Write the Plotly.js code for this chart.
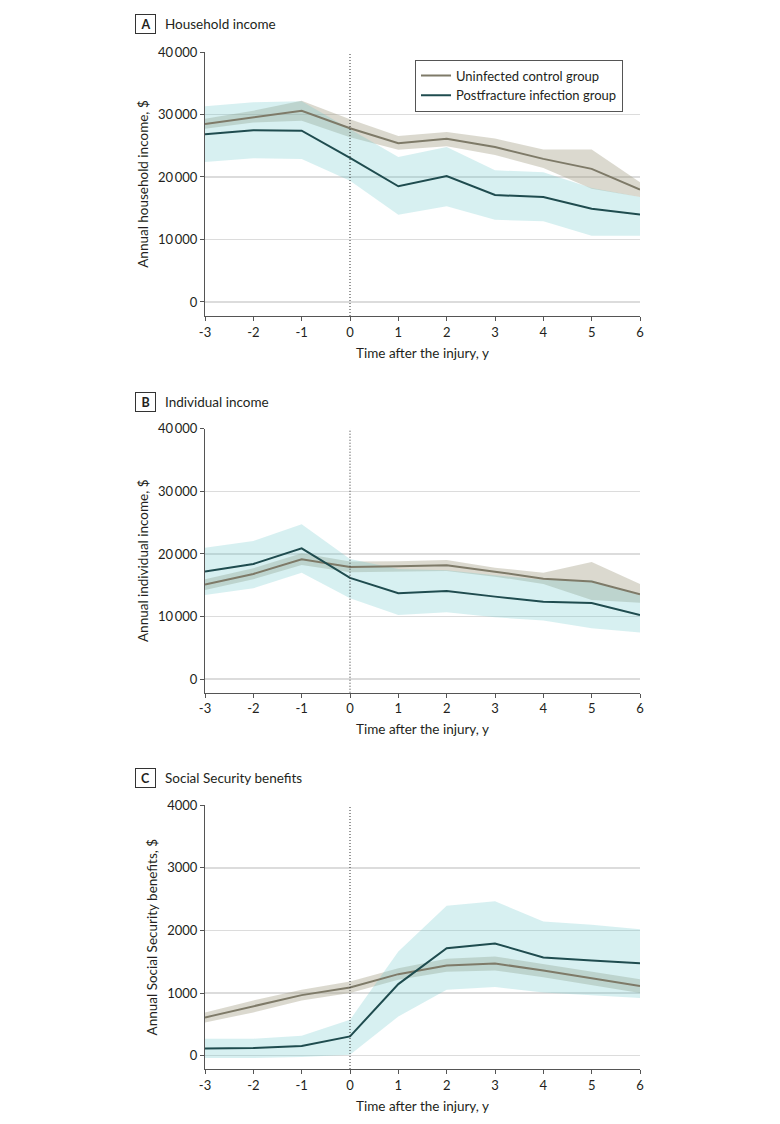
<!DOCTYPE html>
<html>
<head>
<meta charset="utf-8">
<script src="https://cdn.plot.ly/plotly-3.0.1.min.js"></script>
<style>html,body{margin:0;padding:0;background:#fff;}#chart{width:780px;height:1124px;}</style>
</head>
<body>
<div id="chart"></div>
<script>
// ---- data ----
const years = [-3, -2, -1, 0, 1, 2, 3, 4, 5, 6];
const yearLabels = ['-3', '-2', '-1', '0', '1', '2', '3', '4', '5', '6'];
const injuryYear = 0;

const seriesNames = ['Uninfected control group', 'Postfracture infection group'];

// Panel A: Household income
const hhControl      = [28480, 29600, 30600, 27800, 25400, 26100, 24800, 22900, 21300, 17970];
const hhControlUpper = [29300, 30600, 32200, 29250, 26550, 27200, 26150, 24400, 24400, 19150];
const hhControlLower = [27700, 28700, 29000, 26350, 24350, 24900, 23500, 21450, 18100, 16800];
const hhInfect       = [26830, 27470, 27410, 23040, 18510, 20160, 17110, 16800, 14920, 14010];
const hhInfectUpper  = [31300, 31950, 32100, 27700, 23200, 24800, 21070, 20750, 18240, 16800];
const hhInfectLower  = [22400, 22990, 22880, 19400, 13970, 15300, 13150, 12900, 10590, 10590];

// Panel B: Individual income
const indControl      = [15110, 16810, 19150, 17930, 18030, 18190, 17180, 16060, 15590, 13560];
const indControlUpper = [15960, 17710, 20110, 18780, 18830, 19040, 17820, 17020, 18720, 15210];
const indControlLower = [14260, 15960, 18240, 17070, 17180, 17290, 16380, 15210, 12660, 12230];
const indInfect       = [17180, 18400, 20900, 16170, 13720, 14100, 13190, 12390, 12180, 10270];
const indInfectUpper  = [21010, 22070, 24730, 19200, 17600, 17400, 16600, 15900, 15800, 13400];
const indInfectLower  = [13460, 14520, 17020, 12930, 10270, 10690,  9890,  9360,  8140,  7450];

// Panel C: Social Security benefits
const ssControl      = [612, 787, 968, 1090, 1303, 1441, 1473, 1362, 1239, 1112];
const ssControlUpper = [691, 883, 1053, 1186, 1399, 1548, 1585, 1468, 1346, 1223];
const ssControlLower = [532, 691, 883, 1000, 1213, 1340, 1362, 1255, 1133, 1000];
const ssInfect       = [117, 122, 154, 309, 1144, 1718, 1793, 1569, 1521, 1479];
const ssInfectUpper  = [271, 271, 319, 574, 1665, 2394, 2468, 2144, 2090, 2021];
const ssInfectLower  = [-37, -37, -21, 16, 628, 1053, 1096, 1011, 968, 920];

const incomeTickVals = [0, 10000, 20000, 30000, 40000];
const incomeTickText = ['0', '10\u2009000', '20\u2009000', '30\u2009000', '40\u2009000'];
const ssTickVals = [0, 1000, 2000, 3000, 4000];
const ssTickText = ['0', '1000', '2000', '3000', '4000'];

const panelLetters = ['A', 'B', 'C'];
const panelTitles = ['Household income', 'Individual income', 'Social Security benefits'];
const yTitles = ['Annual household income, $', 'Annual individual income, $', 'Annual Social Security benefits, $'];
const xTitle = 'Time after the injury, y';

// ---- styles ----
const FONT = 'Lato, "Noto Sans", sans-serif';
const TXT = '#231f20';
const controlLine = '#7e7a68';
const infectLine = '#1f4c4f';
const controlBand = 'rgba(160,155,128,0.38)';
const infectBand = 'rgba(110,200,205,0.28)';

function band(xs, up, lo) {
  return { x: xs.concat(xs.slice().reverse()), y: up.concat(lo.slice().reverse()) };
}

const panels = [
  { c: hhControl, cu: hhControlUpper, cl: hhControlLower, i: hhInfect, iu: hhInfectUpper, il: hhInfectLower },
  { c: indControl, cu: indControlUpper, cl: indControlLower, i: indInfect, iu: indInfectUpper, il: indInfectLower },
  { c: ssControl, cu: ssControlUpper, cl: ssControlLower, i: ssInfect, iu: ssInfectUpper, il: ssInfectLower }
];

const traces = [];
panels.forEach((p, k) => {
  const xa = k === 0 ? 'x' : 'x' + (k + 1);
  const ya = k === 0 ? 'y' : 'y' + (k + 1);
  const cb = band(years, p.cu, p.cl);
  const ib = band(years, p.iu, p.il);
  traces.push({ x: cb.x, y: cb.y, xaxis: xa, yaxis: ya, type: 'scatter', mode: 'lines', fill: 'toself',
    fillcolor: controlBand, line: { width: 0 }, hoverinfo: 'skip', showlegend: false });
  traces.push({ x: ib.x, y: ib.y, xaxis: xa, yaxis: ya, type: 'scatter', mode: 'lines', fill: 'toself',
    fillcolor: infectBand, line: { width: 0 }, hoverinfo: 'skip', showlegend: false });
  traces.push({ x: years, y: p.c, xaxis: xa, yaxis: ya, type: 'scatter', mode: 'lines', name: seriesNames[0],
    line: { color: controlLine, width: 2 }, showlegend: k === 0 });
  traces.push({ x: years, y: p.i, xaxis: xa, yaxis: ya, type: 'scatter', mode: 'lines', name: seriesNames[1],
    line: { color: infectLine, width: 2 }, showlegend: k === 0 });
});

// layout geometry
const W = 780, H = 1124;
const mL = 205, mR = 140, mT = 52, mB = 55;
const plotH = H - mT - mB;
const yDomains = [[0.7404, 1], [0.3700, 0.6296], [0, 0.2593]];
const yRanges = [[-2250, 40000], [-2150, 40000], [-212, 4000]];
const labelCenters = [24.5, 402, 777.5]; // px from top

function xAxis(k) {
  return {
    domain: [0, 1], anchor: k === 0 ? 'y' : 'y' + (k + 1), range: [years[0], years[years.length - 1]],
    tickmode: 'array', tickvals: years, ticktext: yearLabels,
    ticks: 'outside', ticklen: 4, tickwidth: 1, tickcolor: '#555',
    showline: true, linecolor: '#555', linewidth: 1, showgrid: false, zeroline: false,
    tickfont: { family: FONT, size: 13, color: TXT },
    title: { text: xTitle, standoff: 9, font: { family: FONT, size: 13.5, color: TXT } },
    fixedrange: true
  };
}
function yAxis(k) {
  const inc = k < 2;
  return {
    domain: yDomains[k], anchor: k === 0 ? 'x' : 'x' + (k + 1), range: yRanges[k],
    tickmode: 'array', tickvals: inc ? incomeTickVals : ssTickVals, ticktext: inc ? incomeTickText : ssTickText,
    ticks: 'outside', ticklen: 4, tickwidth: 1, tickcolor: '#555',
    showline: true, linecolor: '#555', linewidth: 1,
    showgrid: true, gridcolor: '#dcdcdc', gridwidth: 1.5, zeroline: false,
    tickfont: { family: FONT, size: 13, color: TXT },
    title: { text: yTitles[k], standoff: 6, font: { family: FONT, size: 13.5, color: TXT } },
    fixedrange: true
  };
}

const layout = {
  width: W, height: H,
  margin: { l: mL, r: mR, t: mT, b: mB, pad: 0 },
  paper_bgcolor: '#fff', plot_bgcolor: '#fff',
  font: { family: FONT, color: TXT },
  showlegend: true,
  legend: {
    x: (415 - mL) / (W - mL - mR), y: (H - mB - 59.5) / plotH, xanchor: 'left', yanchor: 'top',
    bgcolor: '#fff', bordercolor: '#555', borderwidth: 1,
    font: { family: FONT, size: 13, color: TXT }, tracegroupgap: 0
  },
  shapes: [],
  annotations: []
};
for (let k = 0; k < 3; k++) {
  layout[k === 0 ? 'xaxis' : 'xaxis' + (k + 1)] = xAxis(k);
  layout[k === 0 ? 'yaxis' : 'yaxis' + (k + 1)] = yAxis(k);
  layout.shapes.push({
    type: 'line', xref: k === 0 ? 'x' : 'x' + (k + 1), yref: (k === 0 ? 'y' : 'y' + (k + 1)) + ' domain',
    x0: injuryYear, x1: injuryYear, y0: 0, y1: 1, layer: 'above',
    line: { color: '#333', width: 1, dash: '1px,2px' }
  });
  const yc = (H - mB - labelCenters[k]) / plotH;
  layout.annotations.push({
    xref: 'paper', yref: 'paper', x: (135 - mL) / (W - mL - mR), y: yc, xanchor: 'left', yanchor: 'middle',
    text: '<b>' + panelLetters[k] + '</b>', showarrow: false, width: 17, height: 16, borderpad: 1,
    bordercolor: '#333', borderwidth: 1, align: 'center', valign: 'middle',
    font: { family: FONT, size: 12.5, color: TXT }
  });
  layout.annotations.push({
    xref: 'paper', yref: 'paper', x: (163 - mL) / (W - mL - mR), y: yc, xanchor: 'left', yanchor: 'middle',
    text: panelTitles[k], showarrow: false,
    font: { family: FONT, size: 13.5, color: TXT }
  });
}

Plotly.newPlot('chart', traces, layout, { staticPlot: true, displayModeBar: false });
</script>
</body>
</html>
